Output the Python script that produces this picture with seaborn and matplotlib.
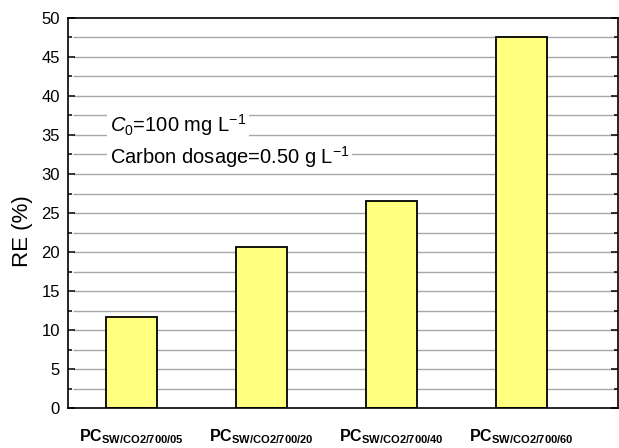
import matplotlib
matplotlib.use("Agg")
import matplotlib.pyplot as plt
import seaborn as sns
import pandas as pd
import numpy as np
from matplotlib.ticker import MultipleLocator

categories = ["05", "20", "40", "60"]
values = [11.7, 20.7, 26.5, 47.5]
tick_labels = [r"PC$_{\mathbf{SW/CO2/700/" + c + r"}}$" for c in categories]

sns.set_theme(style="white")
plt.rcParams["font.family"] = ["Liberation Sans", "DejaVu Sans"]
plt.rcParams["mathtext.fontset"] = "custom"
plt.rcParams["mathtext.rm"] = "Liberation Sans"
plt.rcParams["mathtext.it"] = "Liberation Sans:italic"
plt.rcParams["mathtext.bf"] = "Liberation Sans:bold"
for k in ["text.color", "axes.labelcolor", "xtick.color", "ytick.color"]:
    plt.rcParams[k] = "black"

df = pd.DataFrame({"cat": categories, "RE": values})

fig = plt.figure(figsize=(6.19, 4.48), dpi=100)
ax = fig.add_axes([0.11, 0.089, 0.888, 0.871])

ax.set_ylim(0, 50)
ax.set_xlim(-0.49, 3.74)
# horizontal grid at every major/minor tick position
grid_y = np.arange(2.5, 50, 2.5)
ax.hlines(grid_y, -0.45, 3.74, colors="#a8a8a8", linewidth=1.0, zorder=0.2)

sns.barplot(data=df, x="cat", y="RE", color="#ffff80", saturation=1,
            width=0.39, edgecolor="black", linewidth=1.3, ax=ax, zorder=1)

ax.set_xlim(-0.49, 3.74)
ax.set_ylim(0, 50)
ax.yaxis.set_major_locator(MultipleLocator(5))
ax.yaxis.set_minor_locator(MultipleLocator(2.5))
ax.set_xticks(range(len(categories)))
ax.set_xticklabels(tick_labels, fontsize=11.5, fontweight="bold")
ax.set_xlabel("")
ax.set_ylabel("RE (%)", fontsize=16)
ax.yaxis.set_label_coords(-0.063, 0.454)

for s in ax.spines.values():
    s.set_visible(True)
    s.set_color("black")
    s.set_linewidth(1.2)
    s.set_zorder(3)

ax.tick_params(axis="y", which="major", direction="in", length=5, width=1.1,
               labelsize=12, left=True, right=True, color="black", pad=6)
ax.tick_params(axis="y", which="minor", direction="in", length=3, width=1.1,
               left=True, right=True, color="black")
ax.tick_params(axis="x", which="major", direction="in", length=5, width=1.1,
               bottom=True, top=False, color="black", pad=14)

ax.text(0.076, 0.726, r"$\mathit{C}_{0}$=100 mg L$^{\mathrm{-1}}$", transform=ax.transAxes,
        fontsize=14.5, va="center", ha="left", zorder=4,
        bbox=dict(facecolor="white", edgecolor="none", pad=2))
ax.text(0.076, 0.644, r"Carbon dosage=0.50 g L$^{\mathrm{-1}}$", transform=ax.transAxes,
        fontsize=14.5, va="center", ha="left", zorder=4,
        bbox=dict(facecolor="white", edgecolor="none", pad=2))

fig.savefig("out.png", dpi=100)
